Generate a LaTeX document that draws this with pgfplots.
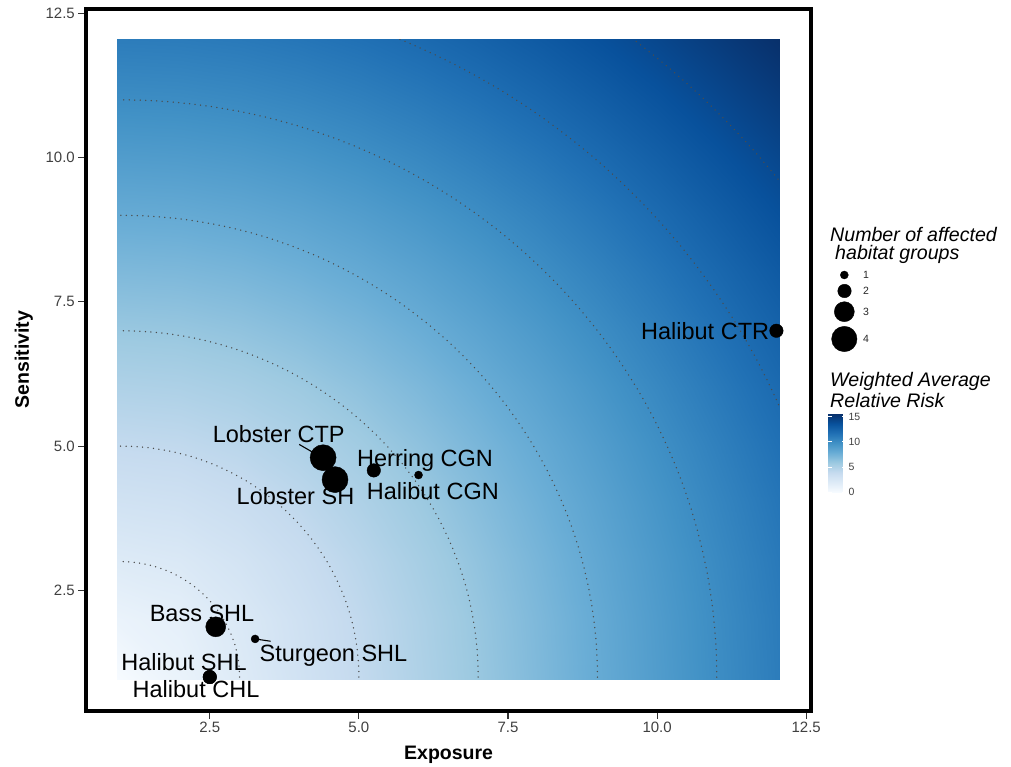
\documentclass[border=0pt]{standalone}
\usepackage{fontspec}
\setmainfont{Liberation Sans}
\usepackage{pgfplots}
\pgfplotsset{compat=1.18}

\pgfplotsset{
  colormap={blues}{rgb255=(247,251,255) rgb255=(222,235,247) rgb255=(198,219,239)
    rgb255=(158,202,225) rgb255=(107,174,214) rgb255=(66,146,198)
    rgb255=(33,113,181) rgb255=(8,81,156) rgb255=(8,48,107)},
}
\newcommand\lbl{\fontsize{23.5}{28}\selectfont}
\newcommand\legtitle{\fontsize{19.6}{23}\selectfont\itshape}
\newcommand\keyfont{\fontsize{10.5}{12}\selectfont}
\tikzset{contour/.style={black!70, line width=1.5pt, line cap=round, dash pattern=on 0pt off 5.5pt}}

% relative risk on the exposure x sensitivity grid (outer cells reach 0.95 and 12.05)
\pgfplotstableread{
x y r
0.95 0.95 0
2 0.95 1
3 0.95 2
4 0.95 3
5 0.95 4
6 0.95 5
7 0.95 6
8 0.95 7
9 0.95 8
10 0.95 9
11 0.95 10
12.05 0.95 11
0.95 2 1
2 2 1.41
3 2 2.24
4 2 3.16
5 2 4.12
6 2 5.10
7 2 6.08
8 2 7.07
9 2 8.06
10 2 9.06
11 2 10.05
12.05 2 11.05
0.95 3 2
2 3 2.24
3 3 2.83
4 3 3.61
5 3 4.47
6 3 5.39
7 3 6.32
8 3 7.28
9 3 8.25
10 3 9.22
11 3 10.20
12.05 3 11.18
0.95 4 3
2 4 3.16
3 4 3.61
4 4 4.24
5 4 5.00
6 4 5.83
7 4 6.71
8 4 7.62
9 4 8.54
10 4 9.49
11 4 10.44
12.05 4 11.40
0.95 5 4
2 5 4.12
3 5 4.47
4 5 5.00
5 5 5.66
6 5 6.40
7 5 7.21
8 5 8.06
9 5 8.94
10 5 9.85
11 5 10.77
12.05 5 11.70
0.95 6 5
2 6 5.10
3 6 5.39
4 6 5.83
5 6 6.40
6 6 7.07
7 6 7.81
8 6 8.60
9 6 9.43
10 6 10.30
11 6 11.18
12.05 6 12.08
0.95 7 6
2 7 6.08
3 7 6.32
4 7 6.71
5 7 7.21
6 7 7.81
7 7 8.49
8 7 9.22
9 7 10.00
10 7 10.82
11 7 11.66
12.05 7 12.53
0.95 8 7
2 8 7.07
3 8 7.28
4 8 7.62
5 8 8.06
6 8 8.60
7 8 9.22
8 8 9.90
9 8 10.63
10 8 11.40
11 8 12.21
12.05 8 13.04
0.95 9 8
2 9 8.06
3 9 8.25
4 9 8.54
5 9 8.94
6 9 9.43
7 9 10.00
8 9 10.63
9 9 11.31
10 9 12.04
11 9 12.81
12.05 9 13.60
0.95 10 9
2 10 9.06
3 10 9.22
4 10 9.49
5 10 9.85
6 10 10.30
7 10 10.82
8 10 11.40
9 10 12.04
10 10 12.73
11 10 13.45
12.05 10 14.21
0.95 11 10
2 11 10.05
3 11 10.20
4 11 10.44
5 11 10.77
6 11 11.18
7 11 11.66
8 11 12.21
9 11 12.81
10 11 13.45
11 11 14.14
12.05 11 14.87
0.95 12.05 11
2 12.05 11.05
3 12.05 11.18
4 12.05 11.40
5 12.05 11.70
6 12.05 12.08
7 12.05 12.53
8 12.05 13.04
9 12.05 13.60
10 12.05 14.21
11 12.05 14.87
12.05 12.05 15.56
}\riskgrid

\begin{document}
\begin{tikzpicture}
\useasboundingbox (0,0) rectangle (1011pt,766pt);
\begin{axis}[
  at={(86.3pt,55.5pt)}, anchor=south west,
  scale only axis, width=724.7pt, height=701.8pt,
  xmin=0.43, xmax=12.58, ymin=0.42, ymax=12.58,
  xtick={2.5,5,7.5,10,12.5}, ytick={2.5,5,7.5,10,12.5},
  tick pos=left, tick align=outside, major tick length=8pt,
  tick style={black!80, line width=1.1pt},
  axis line style={line width=4pt},
  /pgf/number format/.cd, fixed, fixed zerofill, precision=1, assume math mode=true,
  /pgfplots/.cd,
  ticklabel style={font=\fontsize{15}{17}\selectfont, text=black!75},
  xlabel={Exposure}, ylabel={Sensitivity},
  label style={font=\fontsize{19.5}{22}\selectfont\bfseries},
  xlabel style={at={(axis description cs:0.5,-0.0705)}, anchor=base},
  ylabel style={at={(axis description cs:-0.0791,0.5)}, anchor=base},
  colormap name=blues, point meta min=0, point meta max=15.56,
  colorbar,
  colorbar style={
    at={(parent axis.south east)}, anchor=south west, xshift=8.8pt, yshift=218.2pt,
    scale only axis, width=16.7pt, height=78.4pt,
    ytick={0,5,10,15}, yticklabels={0,5,10,15}, tick pos=both,
    axis line style={draw=none},
    tick align=inside, major tick length=3.5pt, tick style={white, line width=1pt},
    yticklabel style={font=\keyfont, text=black!75},
  },
]
% risk surface
\addplot[surf, shader=interp, mesh/cols=12, point meta=\thisrow{r}]
  table[x=x, y=y] {\riskgrid};

% iso-risk contours around (1,1)
\begin{scope}
\clip (axis cs:0.95,0.95) rectangle (axis cs:12.05,12.05);
\draw[contour] (axis cs:3,1) arc[start angle=0, end angle=90, x radius=2, y radius=2];
\draw[contour] (axis cs:5,1) arc[start angle=0, end angle=90, x radius=4, y radius=4];
\draw[contour] (axis cs:7,1) arc[start angle=0, end angle=90, x radius=6, y radius=6];
\draw[contour] (axis cs:9,1) arc[start angle=0, end angle=90, x radius=8, y radius=8];
\draw[contour] (axis cs:11,1) arc[start angle=0, end angle=90, x radius=10, y radius=10];
\draw[contour] (axis cs:13,1) arc[start angle=0, end angle=90, x radius=12, y radius=12];
\draw[contour] (axis cs:15,1) arc[start angle=0, end angle=90, x radius=14, y radius=14];
\end{scope}

% label leader lines
\addplot[black, line width=1.1pt, mark=none] coordinates {(4.0,5.03) (4.4,4.79)};
\addplot[black, line width=1.1pt, mark=none] coordinates {(3.26,1.66) (3.52,1.62)};

% stressor/species points, sized by number of affected habitat groups
\addplot[only marks, mark=*, mark size=4pt, black] coordinates {(6.0,4.5) (3.26,1.66)};
\addplot[only marks, mark=*, mark size=6.75pt, black] coordinates {(5.25,4.58) (2.5,1.0) (2.5,1.0) (12,7)};
\addplot[only marks, mark=*, mark size=10pt, black] coordinates {(2.6,1.87)};
\addplot[only marks, mark=*, mark size=13pt, black] coordinates {(4.4,4.8) (4.6,4.42)};

\begin{scope}[every node/.style={font=\lbl, inner sep=0pt, anchor=base}]
\node at (axis cs:3.656,5.06) {Lobster CTP};
\node at (axis cs:3.937,3.99) {Lobster SH};
\node at (axis cs:6.11,4.655) {Herring CGN};
\node at (axis cs:6.24,4.077) {Halibut CGN};
\node at (axis cs:10.805,6.85) {Halibut CTR};
\node at (axis cs:2.37,1.97) {Bass SHL};
\node at (axis cs:4.574,1.275) {Sturgeon SHL};
\node at (axis cs:2.068,1.114) {Halibut SHL};
\node at (axis cs:2.27,0.64) {Halibut CHL};
\end{scope}
\end{axis}

% size legend
\node[anchor=base west, font=\legtitle, inner sep=0pt] at (830pt,524.3pt) {Number of affected};
\node[anchor=base west, font=\legtitle, inner sep=0pt] at (835pt,506pt) {habitat groups};
\begin{axis}[hide axis, scale only axis, clip=false,
  at={(820pt,400pt)}, anchor=south west, width=80pt, height=110pt,
  xmin=820, xmax=900, ymin=400, ymax=510]
\addplot[only marks, mark=*, mark size=4pt, black] coordinates {(844.3,491)};
\addplot[only marks, mark=*, mark size=6.75pt, black] coordinates {(844.5,475)};
\addplot[only marks, mark=*, mark size=10pt, black] coordinates {(844.3,454.3)};
\addplot[only marks, mark=*, mark size=12.7pt, black] coordinates {(844.3,427)};
\begin{scope}[every node/.style={font=\keyfont, text=black!85, inner sep=0pt, anchor=west}]
\node at (axis cs:863,491) {1};
\node at (axis cs:863,475) {2};
\node at (axis cs:863,454.3) {3};
\node at (axis cs:863,427) {4};
\end{scope}
\end{axis}

% colour bar title
\node[anchor=base west, font=\legtitle, inner sep=0pt] at (830pt,379.3pt) {Weighted Average};
\node[anchor=base west, font=\legtitle, inner sep=0pt] at (830pt,358.3pt) {Relative Risk};
\end{tikzpicture}
\end{document}
